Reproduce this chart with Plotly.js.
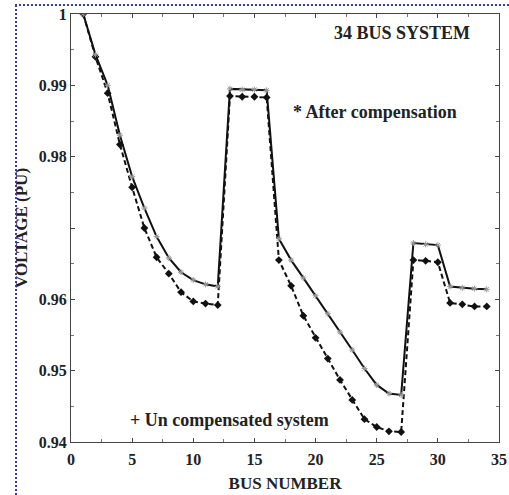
<!DOCTYPE html>
<html>
<head>
<meta charset="utf-8">
<script src="https://cdn.plot.ly/plotly-3.0.1.min.js"></script>
<style>
  html, body { margin: 0; padding: 0; background: #fff; }
  #wrap { position: relative; width: 509px; height: 495px; overflow: hidden; }
  #chart { width: 509px; height: 495px; }
  #bl { position: absolute; left: 15px; top: 5px; width: 0; height: 490px; border-left: 2px dotted #3b3ba8; }
  #bt { position: absolute; left: 15px; top: 4px; width: 494px; height: 0; border-top: 2px dotted #3b3ba8; }
</style>
</head>
<body>
<div id="wrap">
  <div id="chart"></div>
  <div id="bl"></div>
  <div id="bt"></div>
</div>
<script>
const busNumbers = [1,2,3,4,5,6,7,8,9,10,11,12,13,14,15,16,17,18,19,20,21,22,23,24,25,26,27,28,29,30,31,32,33,34];

const afterCompensation = [
  1.0000, 0.9943, 0.9900, 0.9830, 0.9772, 0.9728, 0.9688, 0.9658, 0.9638, 0.9627,
  0.9621, 0.9618, 0.9895, 0.9894, 0.9894, 0.9893, 0.9685, 0.9655, 0.9630, 0.9605,
  0.9580, 0.9554, 0.9529, 0.9503, 0.9480, 0.9468, 0.9466, 0.9679, 0.9677, 0.9676,
  0.9618, 0.9616, 0.9615, 0.9614
];

const uncompensated = [
  1.0000, 0.9940, 0.9889, 0.9817, 0.9757, 0.9700, 0.9659, 0.9636, 0.9610, 0.9597,
  0.9594, 0.9592, 0.9885, 0.9884, 0.9884, 0.9883, 0.9655, 0.9619, 0.9577, 0.9546,
  0.9517, 0.9487, 0.9459, 0.9432, 0.9421, 0.9415, 0.9414, 0.9655, 0.9654, 0.9652,
  0.9595, 0.9593, 0.9590, 0.9590
];

const yTickVals = [0.94, 0.95, 0.96, 0.97, 0.98, 0.99, 1.0];
const yTickText = ['0.94', '0.95', '0.96', '', '0.98', '0.99', '1'];
const xTickVals = [0, 5, 10, 15, 20, 25, 30, 35];

const FONT = 'Liberation Serif, Times New Roman, serif';

const traces = [
  {
    x: busNumbers, y: uncompensated, type: 'scatter', mode: 'lines+markers',
    name: 'Un compensated system',
    line: { color: '#111', width: 2, dash: '5px,3px' },
    marker: { symbol: 'diamond', size: 6, color: '#111' }
  },
  {
    x: busNumbers, y: afterCompensation, type: 'scatter', mode: 'lines+markers',
    name: 'After compensation',
    line: { color: '#111', width: 2 },
    marker: { symbol: 'asterisk-open', size: 5, color: '#999', line: { color: '#999', width: 1 } }
  }
];

const layout = {
  width: 509, height: 495,
  margin: { l: 71, r: 10, t: 14, b: 53 },
  paper_bgcolor: '#fff', plot_bgcolor: '#fff',
  showlegend: false,
  font: { family: FONT, size: 16, color: '#222', weight: 'bold' },
  xaxis: {
    range: [0, 35], tickvals: xTickVals, ticks: 'inside', ticklen: 4, tickcolor: '#444',
    showline: true, linecolor: '#444', linewidth: 1, mirror: 'allticks', showgrid: false, zeroline: false,
    minor: { dtick: 2.5, ticks: 'inside', ticklen: 3, tickcolor: '#777', showgrid: false },
    ticklabelstandoff: 3,
    tickfont: { family: FONT, size: 16, color: '#222', weight: 'bold' },
    title: { text: 'BUS NUMBER', font: { family: FONT, size: 17, color: '#222', weight: 'bold' }, standoff: 9 }
  },
  yaxis: {
    range: [0.94, 1.0], tickvals: yTickVals, ticktext: yTickText, ticks: 'inside', ticklen: 4, tickcolor: '#444',
    showline: true, linecolor: '#444', linewidth: 1, mirror: 'allticks', showgrid: false, zeroline: false,
    minor: { dtick: 0.005, ticks: 'inside', ticklen: 3, tickcolor: '#777', showgrid: false },
    tickfont: { family: FONT, size: 16, color: '#222', weight: 'bold' },
    title: { text: 'VOLTAGE (PU)', font: { family: FONT, size: 17, color: '#222', weight: 'bold' }, standoff: 6 }
  },
  annotations: [
    { x: 27.1, y: 0.9973, xref: 'x', yref: 'y', text: '34 BUS SYSTEM', showarrow: false,
      xanchor: 'center', yanchor: 'middle', font: { family: FONT, size: 18, color: '#222', weight: 'bold' } },
    { x: 24.9, y: 0.9863, xref: 'x', yref: 'y', text: '* After compensation', showarrow: false,
      xanchor: 'center', yanchor: 'middle', font: { family: FONT, size: 18, color: '#222', weight: 'bold' } },
    { x: 13.0, y: 0.9431, xref: 'x', yref: 'y', text: '+ Un compensated system', showarrow: false,
      xanchor: 'center', yanchor: 'middle', font: { family: FONT, size: 18, color: '#222', weight: 'bold' } }
  ]
};

Plotly.newPlot('chart', traces, layout, { displayModeBar: false, staticPlot: true });
</script>
</body>
</html>
